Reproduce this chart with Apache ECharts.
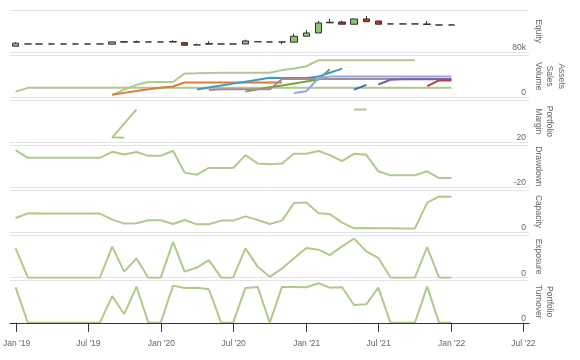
<!DOCTYPE html>
<html><head><meta charset="utf-8">
<script src="https://cdn.jsdelivr.net/npm/echarts@6/dist/echarts.min.js"></script>
<style>html,body{margin:0;padding:0;background:#fff}#c{width:580px;height:360px}</style>
</head><body><div id="c"></div>
<script>
// ---- categories ----
const months = [];
for (let y = 2019; y <= 2022; y++) {
  for (let m = 1; m <= 12; m++) {
    if (y === 2022 && m > 1) break;
    months.push(y + '-' + String(m).padStart(2, '0') + '-01');
  }
}
const monthNames = ['Jan','Feb','Mar','Apr','May','Jun','Jul','Aug','Sep','Oct','Nov','Dec'];
const axisNames = ['Equity', 'Assets\nSales\nVolume', 'Portfolio\nMargin', 'Drawdown', 'Capacity', 'Exposure', 'Portfolio\nTurnover'];

// ---- Equity candles (thousands) ----
const eqOpen  = [85.7,87.8,87.8,87.8,87.8,87.8,87.8,87.8,87.6,89.5,89.5,89.7,89.7,89.6,89.1,86.9,87.6,87.8,87.8,87.8,89.9,89.7,89.7,89.5,95.1,98.25,107.8,108.6,106.5,111.5,109.6,106.8,106.8,106.8,106.2,105.8,105.8];
const eqClose = [88.5,87.8,87.8,87.8,87.8,87.8,87.8,87.8,89.7,90.0,90.0,89.7,89.7,90.2,86.6,86.9,88.2,87.8,87.8,90.7,89.9,89.7,89.7,95.1,98.25,107.7,108.4,106.5,111.5,108.9,106.5,106.8,106.8,106.8,106.8,105.8,105.8];
const eqLow   = [85.7,87.8,87.8,87.8,87.8,87.8,87.8,87.8,87.6,89.5,89.5,89.7,89.7,89.6,86.6,86.9,87.6,87.8,87.8,87.8,89.9,89.7,87.6,89.5,95.1,98.25,107.8,106.5,106.5,108.9,106.5,106.8,106.8,106.8,106.2,105.8,105.8];
const eqHigh  = [89.5,87.8,87.8,87.8,87.8,87.8,87.8,87.8,89.7,90.0,91.0,89.7,89.7,91.35,89.1,88.1,90.4,87.8,87.8,91.9,89.9,89.7,89.7,97.6,101.1,109.6,111.5,109.9,111.5,114.3,109.6,106.8,106.8,106.8,109.6,105.8,105.8];

// ---- Assets / Sales / Volume lines: [startMonthIndex, values...] ----
const avLightGreenLow = [0, 13.5,22.4,22.4,22.4,22.4,22.4,22.4,22.4,22.4,22.4,22.4,22.4,22.4,22.4,22.4,22.4,22.4,22.4,22.4,22.4,22.4,22.4,22.4,22.4,22.4,22.4,22.4,22.4,22.4,22.4,22.4,22.4,22.4,22.4,22.4,22.4,22.4];
const avLightGreenTop = [8, 5.5,18.3,29.6,36.1,36.1,36.1,56.5,57,57.5,58,58,58.3,58.3,58.4,64.4,68,73.6,88,88,88,88,88,88,88,88,88];
const avOrange    = [8, 6.3,10.5,14.7,18.9,22.4,25.5,35,35,35,35,35,35,35,35,35];
const avTeal      = [15, 18.3,23,27.7,32.4,37.1,41.8,46.4,45.7,45.7,45.7,49.5,58.2,68];
const avMauve     = [16, 17.5,18.8,18.8,18.8,18.8,18.8,43.5,43.3,43.3,43.3,43.3,43.3,43.3,43.3,43.3,43.3,43.3,43.3,43.3,43.3,43.3];
const avOlive     = [19, 14,18.8,23.6,28.1,32.7,37.7,42,66.3];
const avLightBlue = [23, 10.3,14.4,45.7,49,49,49,49,49,49,49,49,49,49,49];
const avDarkBlue  = [28, 18.3,29.6];
const avPurple    = [30, 30.3,41.6,42.8,42.8,42.8,42.8,42.8];
const avDarkRed   = [34, 26.4,39.9,39.9];

// ---- Portfolio Margin: [monthIndex, value] in drawing order ----
const marginA = [[10, 35.6], [8, 22.4], [9, 22.2]];
const marginB = [[28, 35.6], [29, 35.6]];

// ---- Drawdown, Capacity, Exposure, Turnover (monthly) ----
const drawdown = [-2.25,-5.95,-5.95,-5.95,-5.95,-5.95,-5.95,-5.95,-3.07,-4.32,-3.21,-4.99,-4.99,-2.59,-12.95,-13.91,-10.74,-10.74,-10.74,-4.65,-8.63,-8.97,-8.63,-4.03,-4.03,-2.73,-4.65,-7.53,-4.03,-4.51,-12.33,-14.25,-14.25,-14.25,-12.33,-15.54,-15.54];
const capacity = [34.5,45.6,45.4,45,45,45,45,45,30.7,21.3,22,29.1,29.1,20.3,29.8,19.6,19.6,28.4,28.4,38.5,29.8,20.3,28.4,70,71.6,45.6,44,23.6,10.2,10.9,10.5,10.2,9.9,9.5,70.9,85.8,85.1];
const exposure = [70.3,0,0,0,0,0,0,0,73.6,14.4,45.6,0,0,84.7,14.4,24,41.5,0,0,69.5,25.7,2,21.6,46,70.3,66.4,53.5,74.3,92.8,62.4,47.2,0,0,0,72.7,0,0];
const turnover = [84.3,0,0,0,0,0,0,0,63.6,20.7,85.7,0,0,88.1,82.6,83.3,79.5,0,0,82.6,85,0,85,85,84.3,93.8,83.3,84.3,42.1,43.8,83.3,0,0,0,85.7,0,0];

// ---- helpers ----
function seg(arr) { const s = arr[0]; return arr.slice(1).map((v, i) => [months[s + i], v]); }
function monthly(arr) { return arr.map((v, i) => [months[i], v]); }
function pairs(arr) { return arr.map(p => [months[p[0]], p[1]]); }

const LG = '#b0c98d';
const FONT = 'Liberation Sans, Arial, sans-serif';
const TXT = '#666';

const tops = [10, 55.1, 100.2, 145.3, 190.4, 235.5, 280.6];
const H = 42.2;
const grids = tops.map(t => ({ left: 10, right: 51, top: t, height: H }));
grids.push({ left: 15.57, right: 56.57, top: tops[6], height: H });

const xAxes = tops.map((t, i) => ({
  type: 'time', gridIndex: i, min: '2018-12-18', max: '2022-07-15',
  show: i === 6, z: 5,
  axisLine: { show: true, lineStyle: { color: '#333', width: 1 } },
  axisTick: { show: false }, axisLabel: { show: false }, splitLine: { show: false }
}));
xAxes.push({
  type: 'time', gridIndex: 7, min: '2019-01-01', max: '2022-07-01',
  minInterval: 150 * 86400000, maxInterval: 200 * 86400000,
  axisLine: { show: false },
  axisTick: { show: true, length: 9, lineStyle: { color: '#333' } },
  axisLabel: {
    margin: 16, fontSize: 8.5, color: TXT, fontFamily: FONT,
    formatter: v => { const d = new Date(v); return monthNames[d.getMonth()] + " '" + String(d.getFullYear()).slice(2); }
  },
  splitLine: { show: false }
});

const yRanges = [[80, 120], [0, 100], [20, 40], [-20, 0], [0, 100], [0, 100], [0, 100]];
const yAxes = yRanges.map((r, i) => ({
  type: 'value', gridIndex: i, position: 'right', min: r[0], max: r[1], interval: r[1] - r[0],
  name: axisNames[i], nameLocation: 'middle', nameRotate: -90, nameGap: 4, nameMoveOverlap: false,
  nameTextStyle: { fontSize: 8.5, lineHeight: 11.2, color: TXT, fontFamily: FONT, align: 'center', verticalAlign: 'bottom' },
  axisLine: { show: false }, axisTick: { show: false },
  axisLabel: {
    inside: true, margin: 3, fontSize: 8.5, color: TXT, fontFamily: FONT, verticalAlign: 'bottom',
    showMaxLabel: false, showMinLabel: true,
    formatter: i === 0 ? (v => v + 'k') : null
  },
  splitLine: { show: true, lineStyle: { color: '#e3e3e3', width: 1 } }
}));
yAxes.push({ type: 'value', gridIndex: 7, show: false });

function line(gi, data, color) {
  return { type: 'line', xAxisIndex: gi, yAxisIndex: gi, data, showSymbol: false, symbol: 'none',
    lineStyle: { color, width: 2 }, itemStyle: { color }, silent: true };
}

const series = [
  {
    type: 'candlestick', xAxisIndex: 0, yAxisIndex: 0, barWidth: 7,
    data: months.map((m, i) => [m, eqOpen[i], eqClose[i], eqLow[i], eqHigh[i]]),
    itemStyle: { color: '#8cc36e', color0: '#c8311d', borderColor: '#333', borderColor0: '#333', borderWidth: 1 }
  },
  line(1, seg(avLightGreenLow), LG),
  line(1, seg(avLightGreenTop), LG),
  line(1, seg(avOrange), '#e07b39'),
  line(1, seg(avOlive), '#7aa33c'),
  line(1, seg(avTeal), '#3a9dbf'),
  line(1, seg(avMauve), '#ab8898'),
  line(1, seg(avDarkBlue), '#3a6db5'),
  line(1, seg(avPurple), '#7d5fa8'),
  line(1, seg(avDarkRed), '#b5403a'),
  line(1, seg(avLightBlue), '#8daadc'),
  line(2, pairs(marginA), LG),
  line(2, pairs(marginB), LG),
  line(3, monthly(drawdown), LG),
  line(4, monthly(capacity), LG),
  line(5, monthly(exposure), LG),
  line(6, monthly(turnover), LG)
];

const chart = echarts.init(document.getElementById('c'), null, { renderer: 'canvas' });
chart.setOption({
  animation: false,
  textStyle: { fontFamily: FONT },
  grid: grids, xAxis: xAxes, yAxis: yAxes, series
});
</script></body></html>
